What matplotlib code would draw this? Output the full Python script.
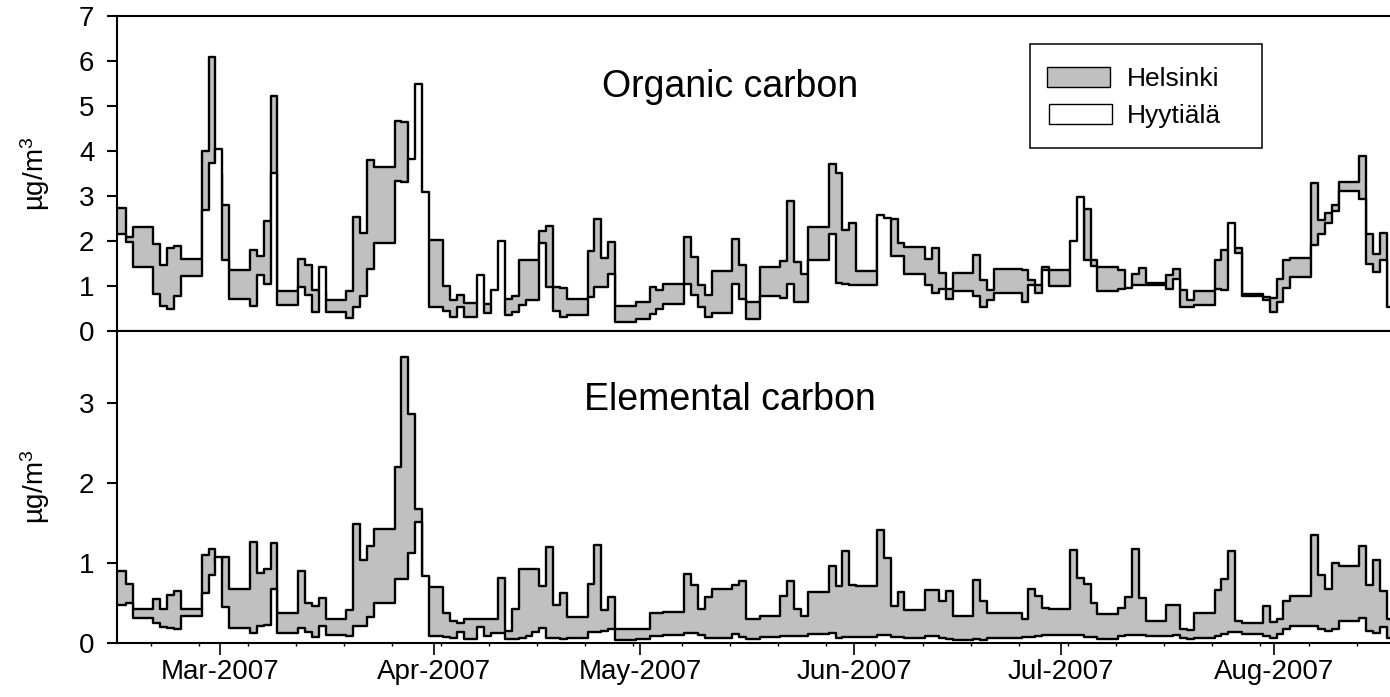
import matplotlib
matplotlib.use('Agg')
import matplotlib.pyplot as plt
import matplotlib.dates as mdates
from matplotlib.patches import Rectangle
from datetime import datetime, timedelta

plt.rcParams['font.family'] = ['Liberation Sans', 'DejaVu Sans']
plt.rcParams['mathtext.fontset'] = 'custom'
plt.rcParams['mathtext.rm'] = 'Liberation Sans'
plt.rcParams['mathtext.it'] = 'Liberation Sans:italic'

# daily samples, each one starting at 08:00
start = datetime(2007, 2, 13, 8)

oc_helsinki = [
    2.74, 2.74, 2.08, 2.31, 2.31, 2.31, 1.94, 1.46, 1.85, 1.89,
    1.60, 1.60, 1.60, 4.00, 6.08, 3.50, 2.80, 1.36, 1.36, 1.36,
    1.81, 1.66, 2.44, 5.23, 0.89, 0.89, 0.89, 1.60, 1.46, 0.92,
    0.87, 0.68, 0.68, 0.68, 0.89, 2.54, 2.17, 3.81, 3.64, 3.64,
    3.64, 4.67, 4.64, 3.30, 3.00, 2.00, 2.02, 2.02, 0.99, 0.68,
    0.79, 0.62, 0.62, 0.60, 0.60, 0.60, 0.70, 0.72, 0.77, 1.57,
    1.57, 1.57, 2.23, 2.34, 0.98, 0.96, 0.72, 0.72, 0.72, 1.77,
    2.50, 1.63, 1.97, 0.55, 0.55, 0.55, 0.64, 0.64, 0.98, 0.92,
    1.05, 1.05, 1.05, 2.08, 1.65, 1.02, 0.79, 1.33, 1.33, 1.33,
    2.05, 1.46, 0.65, 0.65, 1.43, 1.43, 1.43, 1.55, 2.89, 1.53,
    1.26, 2.32, 2.32, 2.32, 3.72, 3.52, 2.24, 2.41, 1.33, 1.33,
    1.33, 2.50, 2.45, 2.49, 1.95, 1.86, 1.86, 1.86, 1.60, 1.84,
    1.29, 0.94, 1.30, 1.30, 1.30, 1.70, 1.14, 0.92, 1.38, 1.38,
    1.38, 1.38, 1.35, 1.14, 1.02, 1.43, 1.35, 1.35, 1.35, 1.30,
    1.30, 2.71, 1.57, 1.43, 1.43, 1.43, 1.35, 0.92, 1.27, 1.40,
    1.07, 1.07, 1.07, 1.24, 1.38, 0.92, 0.68, 0.88, 0.88, 0.88,
    1.57, 1.80, 1.80, 1.85, 0.82, 0.82, 0.82, 0.76, 0.74, 1.16,
    1.57, 1.63, 1.63, 1.63, 3.30, 2.47, 2.62, 2.80, 3.32, 3.32,
    3.32, 3.89, 2.16, 1.72, 2.17, 0.50,
]
oc_hyytiala = [
    2.16, 2.16, 1.97, 1.42, 1.42, 1.42, 0.83, 0.56, 0.48, 0.77,
    1.23, 1.23, 1.23, 2.69, 3.74, 4.05, 1.58, 0.72, 0.72, 0.72,
    0.56, 1.24, 1.05, 3.52, 0.57, 0.57, 0.57, 0.98, 0.79, 0.43,
    1.42, 0.43, 0.43, 0.43, 0.28, 0.53, 0.77, 1.38, 1.95, 1.95,
    1.95, 3.33, 3.31, 3.83, 5.50, 3.10, 0.53, 0.53, 0.45, 0.32,
    0.53, 0.31, 0.31, 1.24, 0.40, 0.91, 1.99, 0.35, 0.42, 0.57,
    0.68, 0.70, 1.95, 0.98, 0.45, 0.31, 0.35, 0.35, 0.35, 0.76,
    0.98, 0.98, 1.27, 0.21, 0.21, 0.21, 0.27, 0.27, 0.38, 0.48,
    0.60, 0.60, 0.60, 1.05, 0.80, 0.53, 0.32, 0.40, 0.40, 0.40,
    1.05, 0.72, 0.26, 0.26, 0.77, 0.77, 0.77, 0.74, 1.05, 0.65,
    0.65, 1.57, 1.57, 1.57, 2.16, 1.07, 1.04, 1.02, 1.02, 1.02,
    1.02, 2.58, 2.52, 1.66, 1.66, 1.27, 1.27, 1.27, 1.02, 0.85,
    0.94, 0.72, 0.88, 0.88, 0.88, 0.77, 0.53, 0.68, 0.85, 0.85,
    0.85, 0.85, 0.65, 1.02, 0.84, 1.36, 1.00, 1.00, 1.00, 2.01,
    2.97, 1.57, 1.45, 0.88, 0.88, 0.88, 0.94, 0.95, 1.02, 1.02,
    1.03, 1.03, 1.03, 0.94, 1.16, 0.53, 0.53, 0.57, 0.57, 0.57,
    0.94, 0.92, 2.39, 1.73, 0.77, 0.77, 0.77, 0.70, 0.42, 0.65,
    0.95, 1.21, 1.21, 1.21, 1.92, 2.16, 2.41, 2.67, 3.11, 3.11,
    3.11, 2.93, 1.49, 1.31, 1.58, 0.53,
]
ec_helsinki = [
    0.90, 0.90, 0.74, 0.43, 0.43, 0.43, 0.55, 0.42, 0.60, 0.65,
    0.42, 0.42, 0.42, 1.10, 1.17, 1.00, 1.07, 0.67, 0.67, 0.67,
    1.26, 0.88, 0.93, 1.25, 0.37, 0.37, 0.37, 0.90, 0.50, 0.46,
    0.56, 0.30, 0.30, 0.30, 0.41, 1.49, 1.04, 1.21, 1.42, 1.42,
    1.42, 2.20, 3.58, 2.86, 1.67, 0.82, 0.70, 0.70, 0.37, 0.28,
    0.25, 0.30, 0.30, 0.30, 0.30, 0.30, 0.81, 0.15, 0.42, 0.92,
    0.92, 0.92, 0.71, 1.20, 0.47, 0.63, 0.32, 0.32, 0.32, 0.74,
    1.22, 0.41, 0.57, 0.17, 0.17, 0.17, 0.17, 0.17, 0.37, 0.37,
    0.39, 0.39, 0.39, 0.86, 0.72, 0.42, 0.58, 0.68, 0.68, 0.68,
    0.72, 0.78, 0.30, 0.30, 0.34, 0.34, 0.34, 0.59, 0.78, 0.43,
    0.34, 0.64, 0.64, 0.64, 0.96, 0.71, 1.15, 0.73, 0.71, 0.71,
    0.71, 1.41, 1.06, 0.46, 0.64, 0.41, 0.41, 0.41, 0.66, 0.66,
    0.52, 0.65, 0.34, 0.34, 0.34, 0.79, 0.52, 0.37, 0.37, 0.37,
    0.37, 0.37, 0.30, 0.68, 0.59, 0.44, 0.43, 0.43, 0.43, 1.16,
    0.81, 0.74, 0.50, 0.36, 0.36, 0.36, 0.44, 0.58, 1.18, 0.56,
    0.27, 0.27, 0.27, 0.47, 0.47, 0.17, 0.16, 0.38, 0.38, 0.38,
    0.66, 0.80, 1.15, 0.27, 0.25, 0.25, 0.25, 0.46, 0.26, 0.30,
    0.52, 0.59, 0.59, 0.59, 1.35, 0.85, 0.68, 1.00, 0.96, 0.96,
    0.96, 1.21, 0.73, 1.04, 0.65, 0.30,
]
ec_hyytiala = [
    0.47, 0.47, 0.50, 0.31, 0.31, 0.31, 0.25, 0.20, 0.19, 0.18,
    0.34, 0.34, 0.34, 0.63, 0.85, 1.08, 0.45, 0.19, 0.19, 0.19,
    0.12, 0.21, 0.23, 0.68, 0.12, 0.12, 0.12, 0.19, 0.14, 0.08,
    0.21, 0.10, 0.10, 0.10, 0.09, 0.21, 0.21, 0.32, 0.50, 0.50,
    0.50, 0.80, 0.80, 1.12, 1.51, 0.84, 0.09, 0.09, 0.08, 0.06,
    0.14, 0.05, 0.05, 0.20, 0.09, 0.13, 0.13, 0.05, 0.05, 0.06,
    0.09, 0.14, 0.19, 0.06, 0.06, 0.05, 0.06, 0.06, 0.06, 0.14,
    0.14, 0.15, 0.17, 0.04, 0.04, 0.04, 0.05, 0.05, 0.09, 0.09,
    0.10, 0.10, 0.10, 0.13, 0.13, 0.10, 0.06, 0.06, 0.06, 0.06,
    0.11, 0.08, 0.05, 0.05, 0.08, 0.08, 0.08, 0.09, 0.09, 0.09,
    0.09, 0.11, 0.11, 0.11, 0.12, 0.06, 0.07, 0.07, 0.07, 0.07,
    0.07, 0.10, 0.10, 0.07, 0.07, 0.06, 0.06, 0.06, 0.09, 0.09,
    0.06, 0.05, 0.04, 0.04, 0.04, 0.05, 0.04, 0.06, 0.06, 0.06,
    0.06, 0.06, 0.08, 0.08, 0.09, 0.10, 0.10, 0.10, 0.10, 0.10,
    0.10, 0.08, 0.08, 0.05, 0.05, 0.05, 0.09, 0.10, 0.10, 0.10,
    0.09, 0.09, 0.09, 0.09, 0.10, 0.06, 0.05, 0.06, 0.06, 0.06,
    0.09, 0.11, 0.14, 0.14, 0.11, 0.11, 0.11, 0.09, 0.06, 0.11,
    0.17, 0.21, 0.21, 0.21, 0.21, 0.18, 0.15, 0.18, 0.27, 0.27,
    0.27, 0.31, 0.15, 0.13, 0.20, 0.06,
]

titles = ['Organic carbon', 'Elemental carbon']
labels = ['Helsinki', 'Hyytiälä']
gray = '#c0c0c0'

edges = [start + timedelta(days=i) for i in range(len(oc_helsinki) + 1)]


def draw(ax, hel, hyy):
    h = hel + [hel[-1]]
    y = hyy + [hyy[-1]]
    ax.fill_between(edges, 0, h, step='post', color=gray, lw=0, zorder=1)
    ax.step(edges, h, where='post', color='k', lw=1.7, zorder=2)
    ax.fill_between(edges, 0, y, step='post', color='white', lw=0, zorder=3)
    ax.step(edges, y, where='post', color='k', lw=1.7, zorder=4)


W, H = 1390, 697
fig = plt.figure(figsize=(W / 100, H / 100), dpi=100)
left = 116.7 / W
ax1 = fig.add_axes([left, 1 - 331 / H, 1 - left, (331 - 16) / H])
ax2 = fig.add_axes([left, 1 - 643 / H, 1 - left, (643 - 331) / H], sharex=ax1)

draw(ax1, oc_helsinki, oc_hyytiala)
draw(ax2, ec_helsinki, ec_hyytiala)

x0 = datetime(2007, 2, 14)
ax1.set_xlim(x0, x0 + timedelta(days=184.8))
ax1.set_ylim(0, 7)
ax2.set_ylim(0, 3.9)
ax1.set_yticks(range(0, 8))
ax2.set_yticks(range(0, 4))

ax2.xaxis.set_major_locator(mdates.MonthLocator())
ax2.xaxis.set_major_formatter(mdates.DateFormatter('%b-%Y'))
ax2.xaxis.set_minor_locator(mdates.WeekdayLocator(byweekday=mdates.MO))

for ax in (ax1, ax2):
    ax.spines['right'].set_visible(False)
    for s in ('left', 'top', 'bottom'):
        ax.spines[s].set_linewidth(1.5)
        ax.spines[s].set_zorder(5)
    ax.tick_params(axis='y', direction='out', length=7, width=1.5, pad=9, labelsize=20)
    ax.set_ylabel('µg/m$^3$', fontsize=20)
    ax.yaxis.set_label_coords(-0.051, 0.5)

ax1.tick_params(axis='x', which='both', length=0, labelbottom=False)
ax2.tick_params(axis='x', which='major', direction='out', length=8.5, width=1.2, pad=3, labelsize=20)
ax2.tick_params(axis='x', which='minor', direction='out', length=2.5, width=1.0)

# panel titles
fig.text(601.7 / W, 1 - 96.7 / H, titles[0], fontsize=27, ha='left', va='baseline')
fig.text(584 / W, 1 - 410 / H, titles[1], fontsize=27, ha='left', va='baseline')


# legend box drawn in pixel positions
def px_rect(x, y, w, h, **kw):
    fig.patches.append(Rectangle((x / W, 1 - (y + h) / H), w / W, h / H,
                                 transform=fig.transFigure, figure=fig, **kw))


px_rect(1030, 44, 232, 104, facecolor='white', edgecolor='k', lw=1.1, zorder=10)
px_rect(1047, 67, 63, 20, facecolor=gray, edgecolor='k', lw=1.0, zorder=11)
px_rect(1049, 104, 63, 20, facecolor='white', edgecolor='k', lw=1.0, zorder=11)
fig.text(1127 / W, 1 - 86.5 / H, labels[0], fontsize=19, ha='left', va='baseline', zorder=12)
fig.text(1127 / W, 1 - 123 / H, labels[1], fontsize=19, ha='left', va='baseline', zorder=12)

fig.savefig('out.png', dpi=100)
